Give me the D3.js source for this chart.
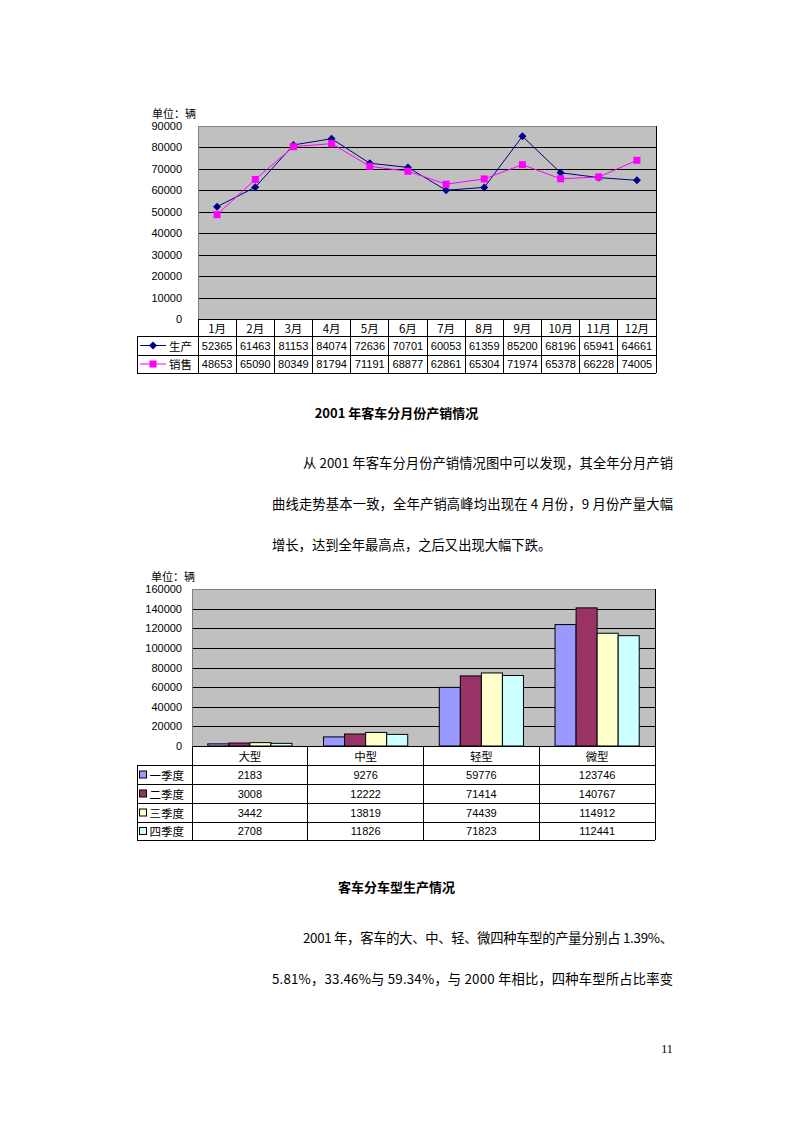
<!DOCTYPE html>
<html><head><meta charset="utf-8">
<script src="https://cdn.jsdelivr.net/npm/d3@7"></script>
<style>body{margin:0;background:#fff}svg{display:block}</style>
</head><body><svg id="c" width="794" height="1123"></svg>
<script>
// ---------- data ----------
const months = ["1月","2月","3月","4月","5月","6月","7月","8月","9月","10月","11月","12月"];
const lineSeries = ["生产","销售"];
const production = [52365,61463,81153,84074,72636,70701,60053,61359,85200,68196,65941,64661];
const sales = [48653,65090,80349,81794,71191,68877,62861,65304,71974,65378,66228,74005];
const lineTicks = [0,10000,20000,30000,40000,50000,60000,70000,80000,90000];

const types = ["大型","中型","轻型","微型"];
const quarters = ["一季度","二季度","三季度","四季度"];
const q1 = [2183,9276,59776,123746];
const q2 = [3008,12222,71414,140767];
const q3 = [3442,13819,74439,114912];
const q4 = [2708,11826,71823,112441];
const barTicks = [0,20000,40000,60000,80000,100000,120000,140000,160000];

// ---------- setup ----------
const svg = d3.select("#c");
svg.append("rect").attr("width",794).attr("height",1123).attr("fill","#fff");
const CJK = "'Noto Sans CJK SC','Noto Sans',sans-serif";
const NUM = "'Liberation Sans',Arial,sans-serif";

function txt(g, x, y, s, opts={}) {
  const t = g.append("text").attr("x",x).attr("y",y).text(s)
    .attr("dominant-baseline","central")
    .attr("font-family", opts.ff || CJK)
    .attr("font-size", opts.fs || 11.5)
    .attr("fill","#000")
    .attr("text-anchor", opts.anchor || "start");
  if (opts.bold) t.attr("font-weight","bold");
  if (opts.len) t.attr("textLength",opts.len).attr("lengthAdjust","spacing");
  return t;
}
function hline(g,x1,x2,y,c="#000"){g.append("line").attr("x1",x1).attr("x2",x2).attr("y1",y).attr("y2",y).attr("stroke",c).attr("stroke-width",1).attr("shape-rendering","crispEdges");}
function vline(g,x,y1,y2,c="#000"){g.append("line").attr("x1",x).attr("x2",x).attr("y1",y1).attr("y2",y2).attr("stroke",c).attr("stroke-width",1).attr("shape-rendering","crispEdges");}

// ---------- chart 1: line chart ----------
{
  const L=198, R=656, T=126, B=319, tableL=137;
  const g = svg.append("g");
  const x = d3.scaleBand().domain(months).range([L,R]);
  const y = d3.scaleLinear().domain([0,90000]).range([B,T]);
  g.append("rect").attr("x",L).attr("y",T).attr("width",R-L).attr("height",B-T).attr("fill","#C0C0C0");
  const ax = g.append("g").attr("transform",`translate(${L},0)`)
    .call(d3.axisLeft(y).tickValues(lineTicks).tickSize(-(R-L)).tickPadding(16).tickFormat(d3.format("d")));
  ax.select(".domain").remove();
  ax.selectAll(".tick line").attr("stroke","#000").attr("shape-rendering","crispEdges");
  ax.selectAll(".tick text").attr("font-family",NUM).attr("font-size",11).attr("fill","#000");
  g.append("rect").attr("x",L).attr("y",T).attr("width",R-L).attr("height",B-T).attr("fill","none")
    .attr("stroke","#808080").attr("shape-rendering","crispEdges");
  txt(g,152,112.5,"单位：辆",{fs:11});

  const series = [
    {name:lineSeries[0], vals:production, color:"#000080", mk:"diamond"},
    {name:lineSeries[1], vals:sales, color:"#FF00FF", mk:"square"}
  ];
  const line = d3.line().x((d,i)=>x(months[i])+x.bandwidth()/2).y(d=>y(d));
  function marker(gg, cx, cy, s){
    if (s.mk==="diamond") gg.append("path").attr("d",`M${cx},${cy-4}L${cx+4},${cy}L${cx},${cy+4}L${cx-4},${cy}Z`).attr("fill",s.color);
    else gg.append("rect").attr("x",cx-3.5).attr("y",cy-3.5).attr("width",7).attr("height",7).attr("fill",s.color);
  }
  series.forEach(s=>{
    g.append("path").attr("d",line(s.vals)).attr("fill","none").attr("stroke",s.color).attr("stroke-width",1);
  });
  series.forEach(s=>{
    s.vals.forEach((v,i)=>marker(g, x(months[i])+x.bandwidth()/2, y(v), s));
  });

  // table
  const rows=[B,336,355,373];
  hline(g,L,R,B); hline(g,tableL,R,rows[1]); hline(g,tableL,R,rows[2]); hline(g,tableL,R,rows[3]);
  vline(g,tableL,rows[1],rows[3]);
  months.forEach((m,i)=>{ vline(g,x(m),B,rows[3]); });
  vline(g,R,T,rows[3]);
  months.forEach((m,i)=>{
    const cx = x(m)+x.bandwidth()/2;
    txt(g,cx,(rows[0]+rows[1])/2+0.5,m,{anchor:"middle",fs:11.5});
    series.forEach((s,k)=>txt(g,cx,(rows[k+1]+rows[k+2])/2,String(s.vals[i]),{anchor:"middle",ff:NUM,fs:11}));
  });
  series.forEach((s,k)=>{
    const cy=(rows[k+1]+rows[k+2])/2;
    g.append("line").attr("x1",140).attr("x2",166).attr("y1",cy).attr("y2",cy).attr("stroke",s.color);
    marker(g,153,cy,s);
    txt(g,169,cy,s.name,{fs:11.5});
  });
}

// ---------- chart 2: bar chart ----------
{
  const L=192, R=655, T=589, B=746, tableL=137;
  const g = svg.append("g");
  const x = d3.scaleBand().domain(types).range([L,R]);
  const xi = d3.scaleBand().domain(quarters).range([0,x.bandwidth()]).paddingInner(0).paddingOuter(0.75);
  const y = d3.scaleLinear().domain([0,160000]).range([B,T]);
  const colors = ["#9999FF","#993366","#FFFFCC","#CCFFFF"];
  const qdata = [q1,q2,q3,q4];
  g.append("rect").attr("x",L).attr("y",T).attr("width",R-L).attr("height",B-T).attr("fill","#C0C0C0");
  const ax = g.append("g").attr("transform",`translate(${L},0)`)
    .call(d3.axisLeft(y).tickValues(barTicks).tickSize(-(R-L)).tickPadding(10).tickFormat(d3.format("d")));
  ax.select(".domain").remove();
  ax.selectAll(".tick line").attr("stroke","#000").attr("shape-rendering","crispEdges");
  ax.selectAll(".tick text").attr("font-family",NUM).attr("font-size",11).attr("fill","#000");
  g.append("rect").attr("x",L).attr("y",T).attr("width",R-L).attr("height",B-T).attr("fill","none")
    .attr("stroke","#808080").attr("shape-rendering","crispEdges");
  txt(g,151,575.5,"单位：辆",{fs:11});

  types.forEach((t,i)=>{
    quarters.forEach((q,k)=>{
      const v=qdata[k][i];
      g.append("rect").attr("x",x(t)+xi(q)).attr("y",y(v)).attr("width",xi.bandwidth()).attr("height",B-y(v))
        .attr("fill",colors[k]).attr("stroke","#000").attr("stroke-width",1);
    });
  });

  const rows=[B,765,784,803,822,840];
  hline(g,L,R,B);
  for(let r=1;r<rows.length;r++) hline(g,tableL,R,rows[r]);
  vline(g,tableL,rows[1],rows[5]);
  types.forEach(t=>vline(g,x(t),B,rows[5]));
  vline(g,R,T,rows[5]);
  types.forEach((t,i)=>{
    const cx=x(t)+x.bandwidth()/2;
    txt(g,cx,(rows[0]+rows[1])/2,t,{anchor:"middle",fs:11.5});
    quarters.forEach((q,k)=>txt(g,cx,(rows[k+1]+rows[k+2])/2,String(qdata[k][i]),{anchor:"middle",ff:NUM,fs:11}));
  });
  quarters.forEach((q,k)=>{
    const cy=(rows[k+1]+rows[k+2])/2;
    g.append("rect").attr("x",139.5).attr("y",cy-3.5).attr("width",7).attr("height",7).attr("fill",colors[k]).attr("stroke","#000");
    txt(g,149.5,cy,q,{fs:11.5});
  });
}

// ---------- text ----------
{
  const g = svg.append("g");
  const fs=13.3;
  txt(g,396.5,412.5,"2001 年客车分月份产销情况",{anchor:"middle",bold:true,fs:13});
  txt(g,303,462,"从 2001 年客车分月份产销情况图中可以发现，其全年分月产销",{fs,len:370});
  txt(g,272,503,"曲线走势基本一致，全年产销高峰均出现在 4 月份，9 月份产量大幅",{fs,len:401});
  txt(g,272,544.5,"增长，达到全年最高点，之后又出现大幅下跌。",{fs});
  txt(g,396.5,886,"客车分车型生产情况",{anchor:"middle",bold:true,fs:13});
  txt(g,303,937,"2001 年，客车的大、中、轻、微四种车型的产量分别占 1.39%、",{fs,len:370});
  txt(g,272,978,"5.81%，33.46%与 59.34%，与 2000 年相比，四种车型所占比率变",{fs,len:401});
  txt(g,667,1049,"11",{anchor:"middle",ff:"'Liberation Serif','Times New Roman',serif",fs:12});
}
</script></body></html>
